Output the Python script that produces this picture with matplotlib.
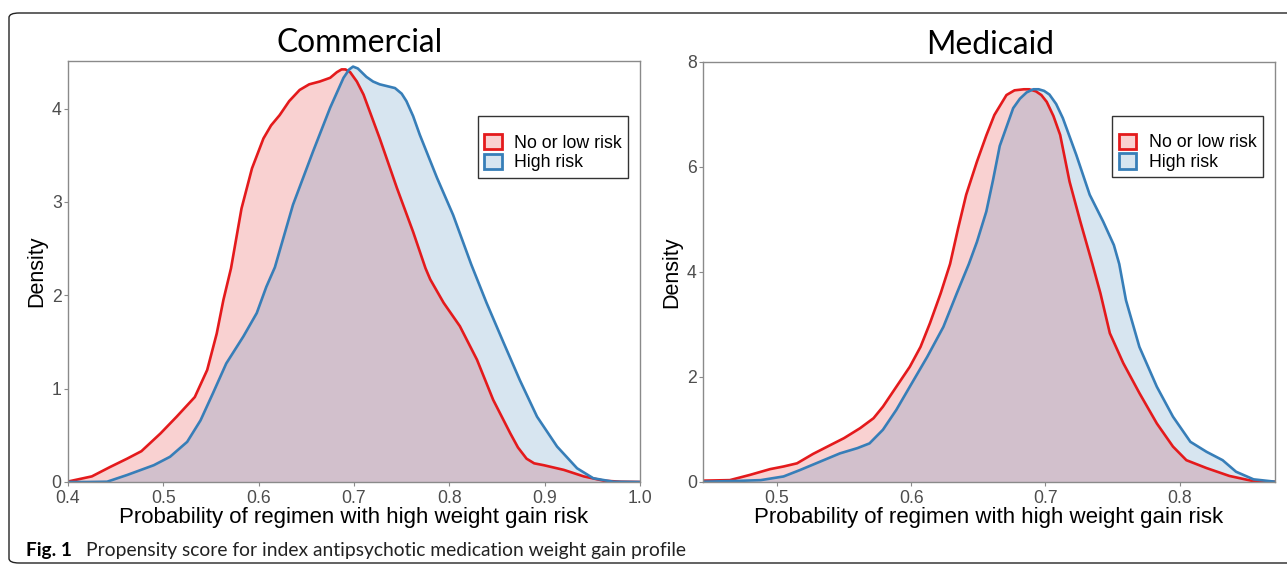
import matplotlib
matplotlib.use("Agg")
import matplotlib.pyplot as plt
from matplotlib.patches import Patch, FancyBboxPatch

plt.rcParams["font.family"] = ["Liberation Sans", "DejaVu Sans"]

RED, BLUE = "#E41A1C", "#377EB8"
SPINE = "#8a8a8a"
TICK_TXT = "#4d4d4d"

# ---- Commercial: density curves ----
com_low_x = [0.400, 0.425, 0.444, 0.462, 0.477, 0.497, 0.514, 0.533, 0.546, 0.556,
             0.563, 0.571, 0.582, 0.593, 0.605, 0.613, 0.622, 0.632, 0.643, 0.653,
             0.664, 0.675, 0.682, 0.687, 0.691, 0.696, 0.703, 0.710, 0.727, 0.745,
             0.762, 0.775, 0.780, 0.794, 0.811, 0.829, 0.846, 0.864, 0.872, 0.881,
             0.889, 0.899, 0.920, 0.941, 0.962, 0.980, 1.000]
com_low_y = [0.005, 0.06, 0.16, 0.25, 0.33, 0.52, 0.70, 0.91, 1.20, 1.59,
             1.95, 2.29, 2.93, 3.36, 3.68, 3.82, 3.93, 4.08, 4.20, 4.26,
             4.29, 4.33, 4.39, 4.42, 4.42, 4.39, 4.29, 4.15, 3.68, 3.15,
             2.68, 2.29, 2.17, 1.92, 1.67, 1.31, 0.88, 0.52, 0.37, 0.25,
             0.20, 0.18, 0.13, 0.06, 0.014, 0.003, 0.0]
com_high_x = [0.400, 0.420, 0.441, 0.462, 0.490, 0.507, 0.525, 0.539, 0.552, 0.566,
              0.584, 0.598, 0.608, 0.617, 0.636, 0.657, 0.675, 0.689, 0.695, 0.699,
              0.704, 0.713, 0.720, 0.727, 0.735, 0.743, 0.750, 0.755, 0.762, 0.769,
              0.787, 0.804, 0.823, 0.839, 0.857, 0.874, 0.892, 0.913, 0.934, 0.951,
              0.972, 1.000]
com_high_y = [0.0, 0.0, 0.003, 0.075, 0.18, 0.27, 0.43, 0.66, 0.95, 1.27,
              1.56, 1.81, 2.09, 2.30, 2.97, 3.54, 4.01, 4.33, 4.42, 4.45,
              4.43, 4.34, 4.29, 4.26, 4.24, 4.22, 4.16, 4.08, 3.92, 3.72,
              3.26, 2.86, 2.33, 1.92, 1.49, 1.09, 0.70, 0.38, 0.147, 0.04,
              0.003, 0.0]

# ---- Medicaid ----
med_low_x = [0.445, 0.465, 0.480, 0.495, 0.505, 0.515, 0.527, 0.540, 0.550, 0.562,
             0.572, 0.579, 0.589, 0.599, 0.607, 0.614, 0.622, 0.629, 0.635, 0.641,
             0.649, 0.656, 0.662, 0.671, 0.677, 0.684, 0.688, 0.693, 0.697, 0.701,
             0.706, 0.711, 0.718, 0.726, 0.735, 0.741, 0.748, 0.758, 0.770, 0.783,
             0.795, 0.805, 0.820, 0.837, 0.855, 0.871]
med_low_y = [0.02, 0.03, 0.13, 0.24, 0.29, 0.35, 0.53, 0.70, 0.83, 1.02,
             1.21, 1.43, 1.81, 2.19, 2.57, 3.02, 3.59, 4.15, 4.83, 5.47,
             6.10, 6.60, 6.99, 7.37, 7.46, 7.48, 7.48, 7.44, 7.37, 7.24,
             6.97, 6.61, 5.72, 4.96, 4.15, 3.59, 2.83, 2.26, 1.69, 1.11,
             0.67, 0.41, 0.26, 0.11, 0.01, 0.0]
med_high_x = [0.445, 0.468, 0.488, 0.505, 0.517, 0.532, 0.547, 0.560, 0.569, 0.579,
              0.589, 0.599, 0.612, 0.624, 0.634, 0.643, 0.649, 0.656, 0.661, 0.666,
              0.676, 0.681, 0.686, 0.691, 0.695, 0.699, 0.703, 0.708, 0.713, 0.723,
              0.733, 0.743, 0.751, 0.755, 0.760, 0.770, 0.783, 0.795, 0.808, 0.820,
              0.832, 0.842, 0.855, 0.871]
med_high_y = [0.0, 0.013, 0.03, 0.10, 0.22, 0.38, 0.54, 0.64, 0.73, 0.99,
              1.37, 1.81, 2.38, 2.95, 3.59, 4.15, 4.57, 5.15, 5.75, 6.40,
              7.12, 7.30, 7.42, 7.48, 7.48, 7.45, 7.38, 7.20, 6.93, 6.23,
              5.47, 4.96, 4.51, 4.15, 3.46, 2.57, 1.81, 1.24, 0.76, 0.57,
              0.41, 0.19, 0.045, 0.0]

group_labels = ["No or low risk", "High risk"]

panels = [
    dict(title="Commercial", low=(com_low_x, com_low_y), high=(com_high_x, com_high_y),
         xlim=(0.4, 1.0), ylim=(0, 4.51),
         xticks=[0.4, 0.5, 0.6, 0.7, 0.8, 0.9, 1.0], yticks=[0, 1, 2, 3, 4],
         rect=[68 / 1287, 83 / 565, 572 / 1287, 421 / 565],
         title_xy=(360 / 1287, 1 - 52 / 565), leg=(0.716, 0.869)),
    dict(title="Medicaid", low=(med_low_x, med_low_y), high=(med_high_x, med_high_y),
         xlim=(0.445, 0.871), ylim=(0, 8.0),
         xticks=[0.5, 0.6, 0.7, 0.8], yticks=[0, 2, 4, 6, 8],
         rect=[703 / 1287, 83.3 / 565, 572 / 1287, 419.7 / 565],
         title_xy=(990 / 1287, 1 - 54 / 565), leg=(0.7156, 0.872)),
]

fig = plt.figure(figsize=(12.87, 5.65), dpi=100)

# rounded frame around the figure
frame = FancyBboxPatch((9 / 1287, 2 / 565), 1.05, 550 / 565,
                       boxstyle="round,pad=0,rounding_size=0.008",
                       transform=fig.transFigure, fill=False, ec="#222222", lw=1.0,
                       clip_on=False)
fig.patches.append(frame)

for p in panels:
    ax = fig.add_axes(p["rect"])
    for (xs, ys), col in ((p["low"], RED), (p["high"], BLUE)):
        ax.fill_between(xs, ys, 0, color=col, alpha=0.2, lw=0)
        ax.plot(xs, ys, color=col, lw=1.9, solid_joinstyle="round")
    ax.set_xlim(*p["xlim"])
    ax.set_ylim(*p["ylim"])
    ax.set_xticks(p["xticks"])
    ax.set_xticklabels([f"{v:.1f}" for v in p["xticks"]])
    ax.set_yticks(p["yticks"])
    for s in ax.spines.values():
        s.set_color(SPINE)
        s.set_linewidth(1.0)
    ax.tick_params(length=3, width=0.8, color=SPINE, labelcolor=TICK_TXT,
                   labelsize=12.7, pad=1.5)
    ax.tick_params(axis="x", pad=3)
    ax.set_xlabel("Probability of regimen with high weight gain risk", fontsize=16,
                  labelpad=0)
    ax.set_ylabel("Density", fontsize=15.5, labelpad=3)
    handles = [Patch(edgecolor=RED, lw=2, fc=(0.894, 0.102, 0.110, 0.2)),
               Patch(edgecolor=BLUE, lw=2, fc=(0.216, 0.494, 0.722, 0.2))]
    leg = ax.legend(handles, group_labels, title=" ", loc="upper left",
                    bbox_to_anchor=p["leg"], fontsize=12.8, title_fontsize=7,
                    frameon=True, fancybox=False, edgecolor="black",
                    handlelength=1.0, handleheight=0.95, handletextpad=0.7,
                    labelspacing=0.1, borderpad=0.35, borderaxespad=0)
    leg.get_frame().set_linewidth(1.0)
    fig.text(*p["title_xy"], p["title"], ha="center", va="baseline",
             fontsize=22.9, family="Lato")

fig.text(26 / 1287, 1 - 556 / 565, "Fig. 1", fontsize=13.7, fontweight="bold",
         family="Lato", va="baseline")
fig.text(86 / 1287, 1 - 556 / 565,
         "Propensity score for index antipsychotic medication weight gain profile",
         fontsize=13.9, family="Lato", va="baseline", color="#222222")

fig.savefig("out.png", dpi=100)
